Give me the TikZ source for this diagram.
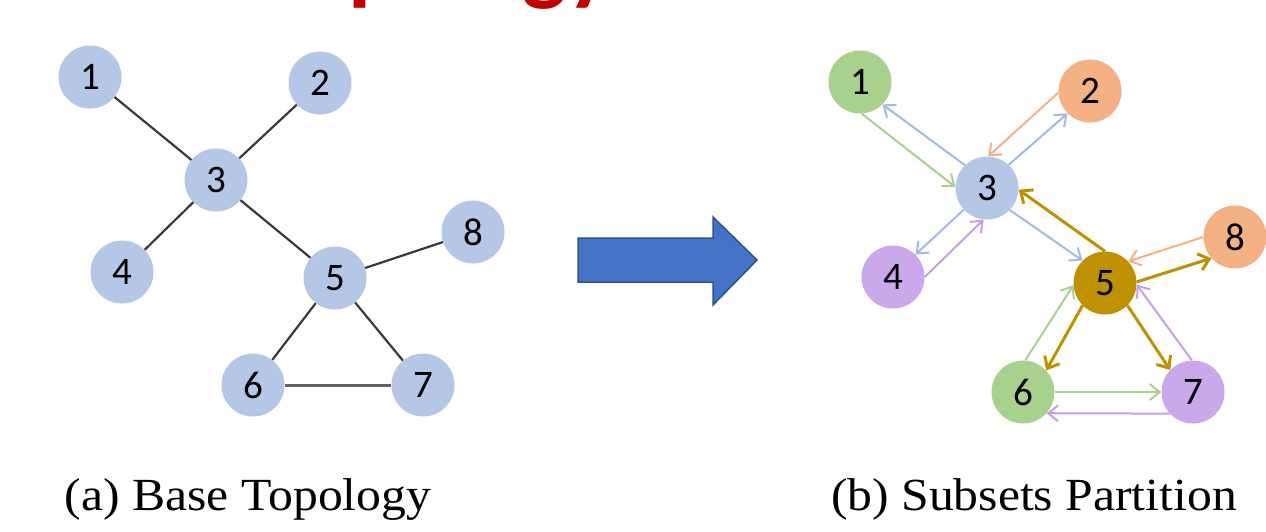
\documentclass[tikz,border=0pt]{standalone}
\usepackage{fontspec}
\usetikzlibrary{arrows.meta}
\newfontfamily\numfont{Carlito}
\newfontfamily\capfont{Liberation Serif}
\newfontfamily\titlefont{Carlito}

\definecolor{nodeblue}{HTML}{B4C7E7}
\definecolor{nodegreen}{HTML}{A9D18E}
\definecolor{nodeorange}{HTML}{F4B183}
\definecolor{nodepurple}{HTML}{CBA7EC}
\definecolor{nodegold}{HTML}{BF9000}
\definecolor{arrblue}{HTML}{A2BAE4}
\definecolor{arrpurple}{HTML}{C7A0EC}
\definecolor{edgegray}{HTML}{3A3A3A}
\definecolor{blockfill}{HTML}{4472C4}
\definecolor{blockline}{HTML}{2F528F}
\definecolor{titlered}{HTML}{C00000}

\tikzset{
  vtx/.style={circle, minimum size=63pt, inner sep=0pt, fill=#1,
    font=\numfont\fontsize{39}{39}\selectfont, text=black},
  edge/.style={draw=edgegray, line width=2.2pt},
  flow/.style={draw=#1, line width=2pt,
    -{Straight Barb[length=10pt, width=16pt, line width=2pt]}},
  goldflow/.style={draw=nodegold, line width=3pt,
    -{Straight Barb[length=10pt, width=17pt, line width=3pt]}},
  caption/.style={font=\capfont\fontsize{46}{46}\selectfont, anchor=base, xscale=1.08}
}

\begin{document}
\begin{tikzpicture}[x=1pt, y=-1pt]
\useasboundingbox (0,0) rectangle (1266,531);
\clip (0,0) rectangle (1266,531);

% heading above the figure
\node[font=\titlefont\bfseries\fontsize{94}{94}\selectfont, text=titlered,
      anchor=base west, inner sep=0pt] (title) at (259,-7) {Topology};

% (a) base topology
\node[vtx=nodeblue] (a1) at (90,77)   {1};
\node[vtx=nodeblue] (a2) at (320,83)  {2};
\node[vtx=nodeblue] (a3) at (216,180) {3};
\node[vtx=nodeblue] (a4) at (122,272) {4};
\node[vtx=nodeblue] (a5) at (335,278) {5};
\node[vtx=nodeblue] (a8) at (473,232) {8};
\node[vtx=nodeblue] (a6) at (253,385) {6};
\node[vtx=nodeblue] (a7) at (423,385) {7};

\draw[edge] (a1) -- (a3);
\draw[edge] (a2) -- (a3);
\draw[edge] (a3) -- (a4);
\draw[edge] (a3) -- (a5);
\draw[edge] (a5) -- (a8);
\draw[edge] (a5) -- (a6);
\draw[edge] (a5) -- (a7);
\draw[edge, line width=3pt, draw=edgegray!80] (a6) -- (a7);

% block arrow between the two panels
\draw[fill=blockfill, draw=blockline, line width=1.5pt, line join=miter]
  (578,238) -- (713,238) -- (713,217) -- (757,260) -- (713,305)
  -- (713,282) -- (578,282) -- cycle;

% (b) subsets partition
\node[vtx=nodegreen]  (b1) at (860,82)   {1};
\node[vtx=nodeorange] (b2) at (1090,91)  {2};
\node[vtx=nodeblue]   (b3) at (987,188)  {3};
\node[vtx=nodepurple] (b4) at (893,277)  {4};
\node[vtx=nodegold]   (b5) at (1105,283) {5};
\node[vtx=nodeorange] (b8) at (1235,237) {8};
\node[vtx=nodegreen]  (b6) at (1023,392) {6};
\node[vtx=nodepurple] (b7) at (1193,392) {7};

\draw[flow=nodegreen]  (b1.-87)  -- (b3.178);
\draw[flow=arrblue]    (b3.134)  -- (b1.-45);
\draw[flow=nodeorange] (b2.183)  -- (b3.88);
\draw[flow=arrblue]    (b3.47)   -- (b2.-135);
\draw[flow=arrblue]    (b3.-137) -- (b4.45);
\draw[flow=arrpurple]  (b4.0)    -- (b3.-96);
\draw[flow=arrblue]    (b3.-44)  -- (b5.135);
\draw[goldflow]        (b5.90)   -- (b3.-3);
\draw[flow=nodeorange] (b8.180)  -- (b5.43);
\draw[goldflow]        (b5.2)    -- (b8.-138);
\draw[flow=nodegreen]  (b6.86)   -- (b5.-176);
\draw[goldflow]        (b5.-135) -- (b6.43);
\draw[goldflow]        (b5.-45)  -- (b7.136);
\draw[flow=arrpurple]  (b7.92)   -- (b5.-3);
\draw[flow=nodegreen]  (b6.0)    -- (b7.180);
\draw[flow=arrpurple]  (b7.-137) -- (b6.-42);

% captions
\node[caption] (capa) at (248,510) {(a) Base Topology};
\node[caption] (capb) at (1034,510) {(b) Subsets Partition};
\end{tikzpicture}
\end{document}
